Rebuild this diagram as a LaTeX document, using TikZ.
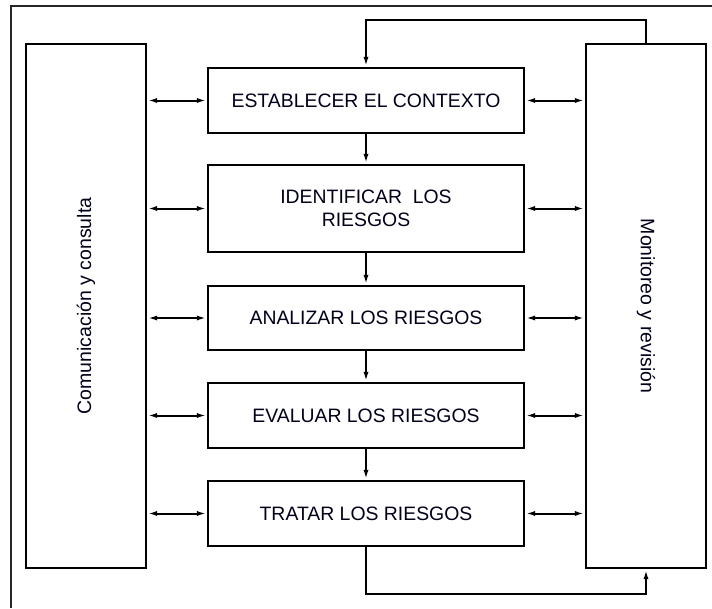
\documentclass[tikz,border=0pt]{standalone}
\usepackage{fontspec}
\setmainfont{Liberation Sans}
\usetikzlibrary{arrows.meta}
\begin{document}
\begin{tikzpicture}[x=1pt,y=-1pt,
  stage/.style={draw, line width=2.2pt, minimum width=316pt, inner sep=0pt,
    font=\fontsize{19.4}{23}\selectfont, align=center, text=black!90!blue},
  side/.style={draw, line width=2.2pt, minimum width=120pt, minimum height=524pt, inner sep=0pt},
  sidetext/.style={font=\fontsize{19.5}{23}\selectfont, text=black!90!blue, inner sep=0pt},
  tip/.tip={Latex[length=10pt,width=5pt]},
  flow/.style={line width=2pt, -tip},
  link/.style={line width=2pt, tip-tip},
  frame/.style={line width=1.4pt, black!85},
]
\useasboundingbox (0,0) rectangle (712,608);

% outer frame (only its top and left sides fall inside the page)
\draw[frame] (712,6) -| (11,608);

% side columns
\node[side] (com) at (86,306) {};
\node[side] (mon) at (646,306) {};
\node[sidetext, rotate=90] (comtxt) at (com.center) {Comunicación y consulta};
\node[sidetext, rotate=-90] (montxt) at (mon.center) {Monitoreo y revisión};

% process stages
\node[stage, minimum height=65pt] (s1) at (366,100.5) {ESTABLECER EL CONTEXTO};
\node[stage, minimum height=87pt] (s2) at (366,208.5) {IDENTIFICAR\ \ LOS\\RIESGOS};
\node[stage, minimum height=64pt] (s3) at (366,318) {ANALIZAR LOS RIESGOS};
\node[stage, minimum height=65pt] (s4) at (366,415.5) {EVALUAR LOS RIESGOS};
\node[stage, minimum height=65pt] (s5) at (366,513.5) {TRATAR LOS RIESGOS};

% downward flow between stages
\draw[flow] (s1.south) -- (s2.north);
\draw[flow] (s2.south) -- (s3.north);
\draw[flow] (s3.south) -- (s4.north);
\draw[flow] (s4.south) -- (s5.north);

% links to communication and monitoring columns
\foreach \s in {s1,s2,s3,s4,s5}{
  \draw[link] (com.east |- \s.west) -- (\s.west);
  \draw[link] (\s.east) -- (mon.west |- \s.east);
}

% feedback loops
\draw[flow] (mon.north) -- ++(0,-23) -| (s1.north);
\draw[flow] (s5.south) -- ++(0,47) -| (mon.south);
\end{tikzpicture}
\end{document}
